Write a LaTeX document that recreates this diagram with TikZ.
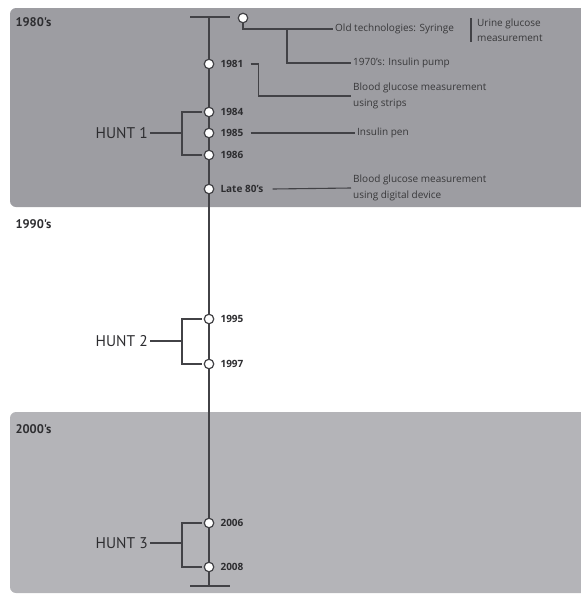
\documentclass[tikz,border=0pt]{standalone}
\usepackage{fontspec}
\setmainfont{Open Sans}
\newfontfamily\huntfont{PT Sans}
\usepackage{xcolor}
\usepackage{tikz}
\usetikzlibrary{positioning}

\definecolor{eraA}{RGB}{157,157,162}
\definecolor{eraC}{RGB}{180,180,184}
\definecolor{inkline}{RGB}{66,66,70}
\definecolor{inktext}{RGB}{45,45,48}

\begin{document}
\begin{tikzpicture}[
  x=1pt, y=-1pt,
  font=\small,
  link/.style={
    draw=inkline,
    line width=1.1pt
  },
  dot/.style={
    circle,
    draw=inkline,
    fill=white,
    line width=1.2pt,
    minimum size=9.5pt,
    inner sep=0pt
  },
  year/.style={
    font=\fontsize{10}{12}\selectfont\bfseries,
    text=inktext,
    inner sep=1pt
  },
  event/.style={
    font=\fontsize{10}{15.5}\selectfont,
    text=inktext!95,
    align=left,
    anchor=west,
    inner sep=2pt
  },
  era/.style={
    font=\huntfont\fontsize{12.5}{14}\selectfont\bfseries,
    text=inktext,
    anchor=west
  },
  hunt/.style={
    font=\huntfont\fontsize{15.5}{17}\selectfont,
    text=inktext,
    anchor=east,
    inner sep=2pt
  }
]
\useasboundingbox (0,0) rectangle (581,595);

% Era bands
\fill[eraA, rounded corners=6pt] (10,8) rectangle (592,207);
\fill[eraC, rounded corners=6pt] (10,412) rectangle (592,593);

\node[era] (e80) at (12,22) {1980's};
\node[era] (e90) at (12,224) {1990's};
\node[era] (e00) at (12,429) {2000's};

% Timeline
\coordinate (ttop) at (209,17);
\coordinate (tbot) at (209,586);
\draw[link] ([xshift=-19pt]ttop) -- ([xshift=21pt]ttop);
\draw[link] ([xshift=-19pt]tbot) -- ([xshift=21pt]tbot);
\draw[link] (ttop) -- (tbot);

% Events on the line
\node[dot] (dold) at (243,18) {};
\node[dot] (d1981) at (209,64) {};
\node[dot] (d1984) at (209,112) {};
\node[dot] (d1985) at (209,133) {};
\node[dot] (d1986) at (209,155) {};
\node[dot] (dlate) at (209,189) {};
\node[dot] (d1995) at (209,319) {};
\node[dot] (d1997) at (209,364) {};
\node[dot] (d2006) at (209,523) {};
\node[dot] (d2008) at (209,567) {};

\node[year, right=5pt of d1981] (y1981) {1981};
\node[year, right=5pt of d1984] (y1984) {1984};
\node[year, right=5pt of d1985] (y1985) {1985};
\node[year, right=5pt of d1986] (y1986) {1986};
\node[year, right=5pt of dlate] (ylate) {Late 80's};
\node[year, right=5pt of d1995] (y1995) {1995};
\node[year, right=5pt of d1997] (y1997) {1997};
\node[year, right=5pt of d2006] (y2006) {2006};
\node[year, right=5pt of d2008] (y2008) {2008};

% Descriptions
\node[event] (oldtech) at (333,29) {Old technologies: Syringe};
\node[event] (urine) at (475,30) {Urine glucose\\measurement};
\node[event] (pump) at (351,63) {1970's: Insulin pump};
\node[event] (strips) at (351,96) {Blood glucose measurement\\using strips};
\node[event] (pen) at (355,133) {Insulin pen};
\node[event] (digital) at (351,188) {Blood glucose measurement\\using digital device};

\coordinate (fork) at (287,29);
\draw[link] (dold) |- (oldtech.west);
\draw[link] (fork) |- (pump.west);
\draw[link] (471,18) -- (471,42);
\draw[link] ([xshift=6pt]y1981.east) -- ++(8,0) |- (strips.west);
\draw[link] ([xshift=6pt]y1985.east) -- (pen.west);
\draw[link] ([xshift=8pt]ylate.east) -- (digital.west);

% Hunts
\node[hunt] (hunt1) at (150,133) {HUNT 1};
\node[hunt] (hunt2) at (150,341) {HUNT 2};
\node[hunt] (hunt3) at (150,543) {HUNT 3};

\coordinate (bk1) at (182,133);
\coordinate (bk2) at (182,341);
\coordinate (bk3) at (182,543);

\draw[link] (hunt1.east) -- (bk1);
\draw[link] ([xshift=-2pt]d1984.west) -| (bk1) |- ([xshift=-2pt]d1986.west);
\draw[link] (hunt2.east) -- (bk2);
\draw[link] ([xshift=-2pt]d1995.west) -| (bk2) |- ([xshift=-2pt]d1997.west);
\draw[link] (hunt3.east) -- (bk3);
\draw[link] ([xshift=-2pt]d2006.west) -| (bk3) |- ([xshift=-2pt]d2008.west);

\end{tikzpicture}
\end{document}
